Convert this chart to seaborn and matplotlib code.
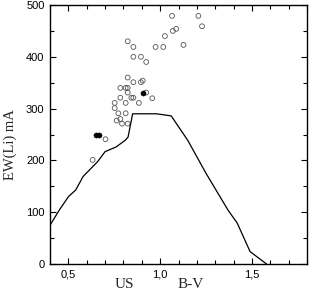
import matplotlib
matplotlib.use("Agg")
import matplotlib.pyplot as plt
import seaborn as sns
from matplotlib.ticker import MultipleLocator, FuncFormatter

# boundary curve
line_bv = [0.40, 0.45, 0.50, 0.54, 0.58, 0.66, 0.70, 0.76, 0.81, 0.825, 0.85,
           0.98, 1.06, 1.15, 1.25, 1.37, 1.42, 1.49, 1.58]
line_ew = [75, 104, 130, 143, 169, 198, 217, 226, 239, 245, 290,
           290, 286, 239, 175, 104, 79, 24, 0]

# open circles
open_bv = [1.065, 1.208, 1.228, 1.087, 1.069, 1.026, 0.823, 0.854, 0.975, 1.017,
           1.127, 0.854, 0.895, 0.924, 0.823, 0.854, 0.895, 0.905, 0.783, 0.812,
           0.823, 0.823, 0.924, 0.783, 0.843, 0.854, 0.957, 0.752, 0.812, 0.884,
           0.752, 0.772, 0.812, 0.783, 0.763, 0.792, 0.823, 0.702, 0.632]
open_ew = [479, 479, 459, 454, 450, 440, 430, 419, 419, 419,
           423, 400, 400, 390, 360, 351, 351, 354, 340, 340,
           340, 331, 331, 321, 321, 321, 320, 311, 311, 311,
           301, 291, 291, 280, 277, 271, 271, 241, 201]

# filled points
fill_bv = [0.650, 0.664, 0.905]
fill_ew = [250, 250, 331]

sns.set_style("ticks")
plt.rcParams["font.family"] = ["Liberation Sans", "DejaVu Sans"]
fig = plt.figure(figsize=(3.11, 2.95), dpi=100)
ax = fig.add_axes([0.161, 0.105, 0.826, 0.878])

sns.lineplot(x=line_bv, y=line_ew, ax=ax, color="black", linewidth=0.9,
             sort=False, estimator=None)
sns.scatterplot(x=open_bv, y=open_ew, ax=ax, marker="o", s=12,
                facecolor="none", edgecolor="#555555", linewidth=0.6)
sns.scatterplot(x=fill_bv, y=fill_ew, ax=ax, marker="o", s=14,
                color="black", edgecolor="black", linewidth=0.3)

ax.set_xlim(0.4, 1.8)
ax.set_ylim(0, 500)
ax.xaxis.set_major_locator(MultipleLocator(0.5))
ax.xaxis.set_minor_locator(MultipleLocator(0.1))
ax.yaxis.set_major_locator(MultipleLocator(100))
ax.yaxis.set_minor_locator(MultipleLocator(50))
ax.xaxis.set_major_formatter(FuncFormatter(lambda v, p: f"{v:.1f}".replace(".", ",")))
ax.tick_params(which="both", direction="in", top=True, right=True,
               labelsize=8, width=0.8, colors="black", pad=4)
ax.tick_params(which="major", length=4.5)
ax.tick_params(which="minor", length=3)
for sp in ax.spines.values():
    sp.set_linewidth(1.0)
    sp.set_color("black")

serif = ["Liberation Serif", "DejaVu Serif"]
ax.set_xlabel("")
ax.set_ylabel("EW(Li) mA", family=serif, fontsize=10.5)
ax.yaxis.set_label_coords(-0.13, 0.46)

fig.text(124 / 311, 1 - 285 / 295, "US", family=serif, fontsize=11,
         ha="center", va="center")
fig.text(191 / 311, 1 - 285 / 295, "B-V", family=serif, fontsize=11,
         ha="center", va="center")

fig.savefig("out.png", dpi=100)
